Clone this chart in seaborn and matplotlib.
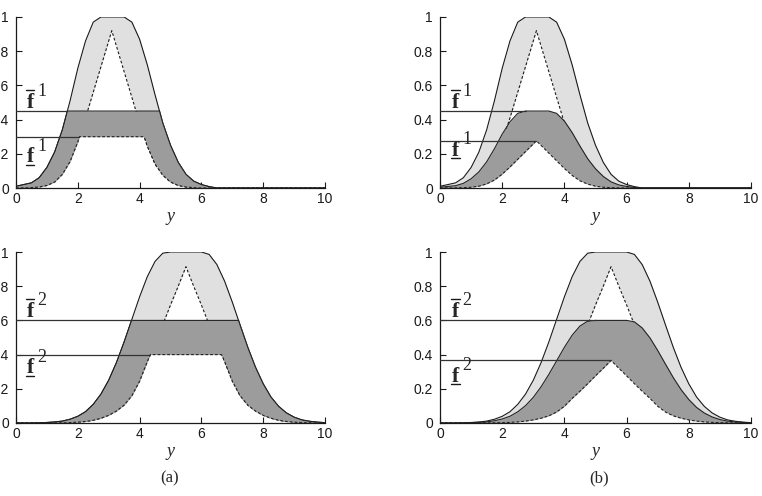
import numpy as np
import matplotlib
matplotlib.use("Agg")
import matplotlib.pyplot as plt
import seaborn as sns

# 1. DATA
# rule 1: upper / lower membership functions
x1 = [0.0, 0.25, 0.5, 0.75, 1.0, 1.25, 1.5, 1.75, 2.0, 2.25, 2.5, 2.75, 3.0, 3.1,
      3.25, 3.5, 3.75, 4.0, 4.25, 4.5, 4.75, 5.0, 5.25, 5.5, 5.75, 6.0, 6.25, 6.5, 10.0]
upper1 = [0.01, 0.02, 0.03, 0.06, 0.12, 0.21, 0.34, 0.51, 0.70, 0.86, 0.97, 1.0, 1.0, 1.0,
          1.0, 1.0, 0.97, 0.87, 0.72, 0.545, 0.38, 0.25, 0.15, 0.08, 0.04, 0.02, 0.008, 0.0, 0.0]
lower1 = [0.0, 0.001, 0.002, 0.006, 0.015, 0.035, 0.08, 0.155, 0.27, 0.41, 0.56, 0.71, 0.86, 0.92,
          0.83, 0.68, 0.53, 0.38, 0.245, 0.14, 0.075, 0.035, 0.015, 0.006, 0.002, 0.0, 0.0, 0.0, 0.0]

# rule 2
x2 = [0.0, 0.25, 0.5, 0.75, 1.0, 1.25, 1.5, 1.75, 2.0, 2.25, 2.5, 2.75, 3.0, 3.25, 3.5,
      3.75, 4.0, 4.25, 4.5, 4.75, 5.0, 5.25, 5.5, 5.75, 6.0, 6.25, 6.5, 6.75, 7.0, 7.25,
      7.5, 7.75, 8.0, 8.25, 8.5, 8.75, 9.0, 9.25, 9.5, 9.75, 10.0]
upper2 = [0.0, 0.0, 0.0, 0.001, 0.003, 0.006, 0.011, 0.022, 0.039, 0.066, 0.109, 0.169, 0.25, 0.353, 0.474,
          0.606, 0.738, 0.856, 0.945, 0.993, 1.0, 1.0, 1.0, 1.0, 1.0, 0.986, 0.927, 0.83, 0.707, 0.574,
          0.443, 0.326, 0.229, 0.152, 0.097, 0.059, 0.034, 0.018, 0.01, 0.005, 0.002]
lower2 = [0.0, 0.0, 0.0, 0.0, 0.0, 0.0, 0.001, 0.002, 0.005, 0.009, 0.016, 0.028, 0.045, 0.07, 0.105,
          0.16, 0.245, 0.36, 0.465, 0.575, 0.69, 0.80, 0.914, 0.80, 0.69, 0.575, 0.465, 0.36, 0.245, 0.16,
          0.105, 0.07, 0.045, 0.028, 0.016, 0.009, 0.005, 0.002, 0.001, 0.0, 0.0]

# firing levels (upper, lower) per rule
fire1 = (0.45, 0.30)
fire2 = (0.60, 0.40)

LIGHT = "#e0e0e0"
DARK = "#9c9c9c"
DASH = (0, (2.5, 1.8))
SERIF = "Liberation Serif"


def crossings(x, y, level):
    # x positions where the polyline crosses a horizontal level
    out = []
    for i in range(1, len(x)):
        y0, y1 = y[i - 1], y[i]
        if (y0 - level) * (y1 - level) < 0:
            t = (level - y0) / (y1 - y0)
            out.append(x[i - 1] + t * (x[i] - x[i - 1]))
    return out


def draw_panel(ax, x, up, lo, f_up, f_lo, mode):
    x = np.array(x); up = np.array(up); lo = np.array(lo)
    ax.fill_between(x, up, lo, color=LIGHT, lw=0, zorder=1)
    sns.lineplot(x=x, y=up, ax=ax, color="k", lw=0.8, errorbar=None, zorder=2)
    sns.lineplot(x=x, y=lo, ax=ax, color="k", lw=0.8, linestyle=DASH, errorbar=None, zorder=2)

    if mode == "a":
        xa = np.unique(np.concatenate([x, crossings(x, up, f_up), crossings(x, lo, f_lo)]))
        cu = np.minimum(np.interp(xa, x, up), f_up)
        cl = np.minimum(np.interp(xa, x, lo), f_lo)
    else:
        xa = x
        cu = f_up * up
        cl = f_lo * lo
    ax.fill_between(xa, cu, cl, color=DARK, lw=0, zorder=2.5)
    sns.lineplot(x=xa, y=cu, ax=ax, color="#222222", lw=0.8, errorbar=None, zorder=3)
    sns.lineplot(x=xa, y=cl, ax=ax, color="#222222", lw=0.8, linestyle=DASH, errorbar=None, zorder=3)

    # firing-level lines from the axis to where the curve reaches its top
    for c in (cu, cl):
        top = c.max()
        xe = xa[np.argmax(c >= top - 1e-9)]
        ax.plot([0, xe], [top, top], color="#333333", lw=0.9, zorder=3.5)

    ax.set_xlim(0, 10)
    ax.set_ylim(0, 1)
    ax.set_xticks([0, 2, 4, 6, 8, 10])
    ax.set_yticks([0, 0.2, 0.4, 0.6, 0.8, 1.0])
    ax.set_yticklabels(["0", "0.2", "0.4", "0.6", "0.8", "1"])
    sns.despine(ax=ax)
    ax.tick_params(direction="in", length=4, width=0.8, labelsize=10, pad=3, colors="k")
    ax.tick_params(axis="y", pad=5)
    for s in ("left", "bottom"):
        ax.spines[s].set_linewidth(0.9)
        ax.spines[s].set_color("k")
    ax.set_xlabel("y", fontsize=13, fontstyle="italic", family=SERIF, labelpad=1)


def f_label(ax, lx, base, idx, bar):
    ax.text(lx, base, "f", fontsize=15.5, fontweight="bold", family=SERIF, va="baseline", zorder=5)
    ax.annotate(str(idx), xy=(lx, base), xytext=(7.5, 8.5), textcoords="offset points",
                fontsize=13, family=SERIF, va="baseline", zorder=5)
    yb = base + 0.105 if bar == "over" else base - 0.014
    ax.plot([lx - 0.02, lx + 0.25], [yb, yb], color="k", lw=1.0, clip_on=False, zorder=5)


sns.set_theme(style="ticks")
plt.rcParams["font.family"] = ["Liberation Sans Narrow", "Liberation Sans", "DejaVu Sans"]

fig = plt.figure(figsize=(7.62, 4.96), dpi=100)
W, H = 762.0, 496.0
axes = {
    "tl": fig.add_axes([16 / W, 1 - 188 / H, 309 / W, 171 / H]),
    "tr": fig.add_axes([440 / W, 1 - 188 / H, 311 / W, 171 / H]),
    "bl": fig.add_axes([16 / W, 1 - 423 / H, 309 / W, 171 / H]),
    "br": fig.add_axes([440 / W, 1 - 423 / H, 311 / W, 171 / H]),
}
draw_panel(axes["tl"], x1, upper1, lower1, *fire1, "a")
draw_panel(axes["tr"], x1, upper1, lower1, *fire1, "b")
draw_panel(axes["bl"], x2, upper2, lower2, *fire2, "a")
draw_panel(axes["br"], x2, upper2, lower2, *fire2, "b")

# f-bar / f-underbar labels: (axes, index, x, baseline of overlined, baseline of underlined)
labels = [("tl", 1, 0.34, 0.47, 0.15), ("tr", 1, 0.38, 0.47, 0.19),
          ("bl", 2, 0.34, 0.62, 0.29), ("br", 2, 0.38, 0.62, 0.24)]
for key, i, lx, yo, yu in labels:
    f_label(axes[key], lx, yo, i, "over")
    f_label(axes[key], lx, yu, i, "under")

fig.text(170 / W, 1 - 478 / H, "(a)", ha="center", va="center", fontsize=12, family=SERIF)
fig.text(599 / W, 1 - 478 / H, "(b)", ha="center", va="center", fontsize=12, family=SERIF)

fig.savefig("out.png", dpi=100)
